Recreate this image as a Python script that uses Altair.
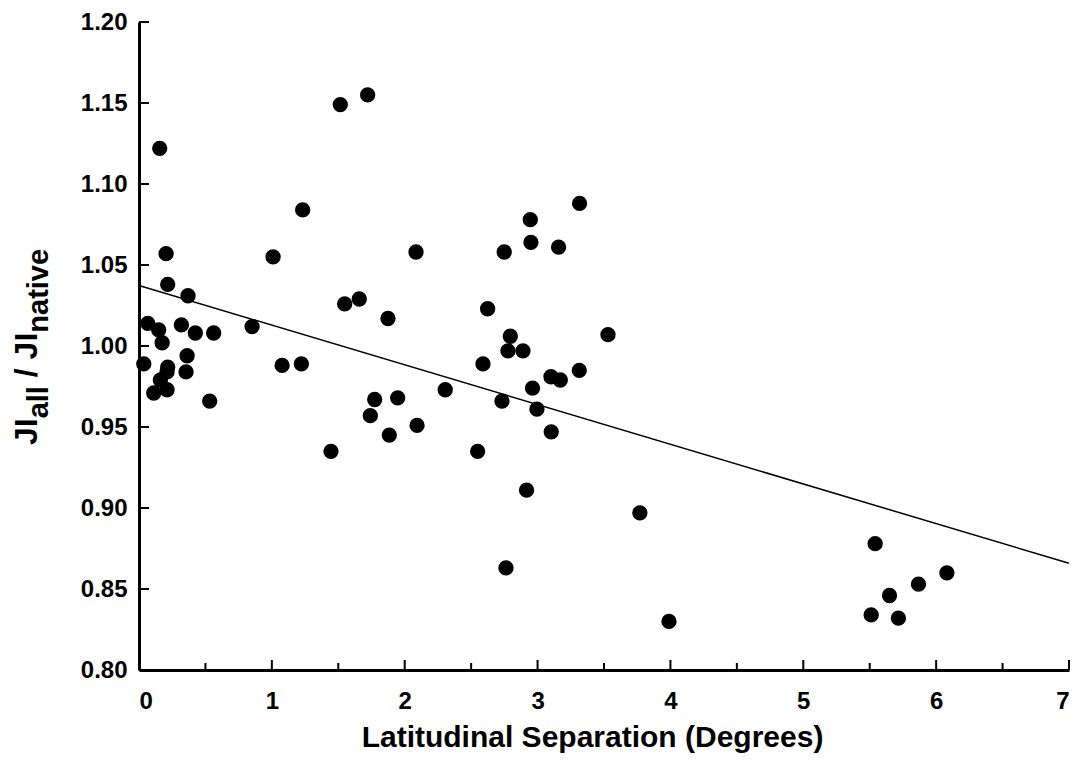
import altair as alt
import pandas as pd

# Latitudinal separation (degrees)
sep = [0.156, 0.204, 0.216, 0.369, 0.066, 0.148, 0.319, 0.424, 0.562, 0.851,
       0.174, 0.036, 0.362, 0.216, 0.354, 0.211, 0.161, 0.211, 0.111, 0.532,
       1.515, 1.721, 1.232, 1.009, 2.085, 1.548, 1.658, 1.874, 1.077, 1.222,
       2.305, 1.774, 1.947, 1.741, 2.093, 1.884, 1.445,
       3.316, 2.945, 2.950, 3.158, 2.749, 2.624, 3.530, 2.795, 2.777, 2.890,
       2.589, 3.314, 3.101, 3.171, 2.962, 2.732, 2.995, 3.103, 2.549, 2.917,
       2.762, 3.770, 3.989, 5.541, 6.081, 5.867, 5.649, 5.511, 5.716]
# JI_all / JI_native
ratio = [1.122, 1.057, 1.038, 1.031, 1.014, 1.010, 1.013, 1.008, 1.008, 1.012,
         1.002, 0.989, 0.994, 0.987, 0.984, 0.984, 0.979, 0.973, 0.971, 0.966,
         1.149, 1.155, 1.084, 1.055, 1.058, 1.026, 1.029, 1.017, 0.988, 0.989,
         0.973, 0.967, 0.968, 0.957, 0.951, 0.945, 0.935,
         1.088, 1.078, 1.064, 1.061, 1.058, 1.023, 1.007, 1.006, 0.997, 0.997,
         0.989, 0.985, 0.981, 0.979, 0.974, 0.966, 0.961, 0.947, 0.935, 0.911,
         0.863, 0.897, 0.830, 0.878, 0.860, 0.853, 0.846, 0.834, 0.832]

x_major = [0, 1, 2, 3, 4, 5, 6, 7]
x_minor = [0.5, 1.5, 2.5, 3.5, 4.5, 5.5, 6.5]
y_ticks = [0.80, 0.85, 0.90, 0.95, 1.00, 1.05, 1.10, 1.15, 1.20]

FONT = "Liberation Sans"
W, H = 930, 648

df = pd.DataFrame({"sep": sep, "ratio": ratio})
xs = alt.Scale(domain=[0, 7], nice=False, zero=False)
ys = alt.Scale(domain=[0.8, 1.2], nice=False, zero=False)

xaxis = alt.Axis(values=x_major, format="d", title="Latitudinal Separation (Degrees)",
                 ticks=False, grid=False, labelPadding=19,
                 titleX=453, titleY=76, titleBaseline="alphabetic",
                 domainColor="black", domainWidth=3)
yaxis = alt.Axis(values=y_ticks, format=".2f", title=None, ticks=False, grid=False,
                 labelPadding=12, domainColor="black", domainWidth=3)

points = alt.Chart(df).mark_circle(size=235, color="black", opacity=1).encode(
    x=alt.X("sep:Q", scale=xs, axis=xaxis),
    y=alt.Y("ratio:Q", scale=ys, axis=yaxis),
)

fit = alt.Chart(df).transform_regression("sep", "ratio", extent=[0, 7]).mark_line(
    color="black", strokeWidth=1.5).encode(
    x=alt.X("sep:Q", scale=xs),
    y=alt.Y("ratio:Q", scale=ys),
)

xmaj = alt.Chart(pd.DataFrame({"x": x_major})).mark_rule(color="black", strokeWidth=2).encode(
    x=alt.X("x:Q", scale=xs), y=alt.value(H), y2=alt.value(H - 10))
xmin = alt.Chart(pd.DataFrame({"x": x_minor})).mark_rule(color="black", strokeWidth=2).encode(
    x=alt.X("x:Q", scale=xs), y=alt.value(H), y2=alt.value(H - 7))
ytk = alt.Chart(pd.DataFrame({"y": y_ticks})).mark_rule(color="black", strokeWidth=2).encode(
    y=alt.Y("y:Q", scale=ys), x=alt.value(0), x2=alt.value(10))

F, S, SUB = 32, 29, 11
segs = [("JI", F, 0, 0),
        ("all", S, 0.834 * F, SUB),
        ("/ JI", F, 0.834 * F + 1.112 * S + 0.278 * F, 0),
        ("native", S, 0.834 * F + 1.112 * S + 0.278 * F + 1.39 * F, SUB)]
title_layers = []
for txt, size, dx, dy in segs:
    title_layers.append(
        alt.Chart(pd.DataFrame({"t": [txt]})).mark_text(
            angle=270, align="left", baseline="alphabetic", font=FONT, fontWeight="bold",
            fontSize=size, dx=dx, dy=dy, color="black").encode(
            text="t:N", x=alt.value(-102), y=alt.value(423)))

chart = alt.layer(points, fit, xmaj, xmin, ytk, *title_layers).properties(
    width=W, height=H,
    autosize=alt.AutoSizeParams(type="none"),
    padding={"left": 131, "top": 14, "right": 4, "bottom": 90},
).configure_view(stroke=None).configure_axis(
    labelFont=FONT, labelFontWeight="bold", labelFontSize=24, labelColor="black",
    titleFont=FONT, titleFontWeight="bold", titleFontSize=30, titleColor="black",
)

chart.save("out.html", embed_options={"renderer": "svg", "actions": False})
